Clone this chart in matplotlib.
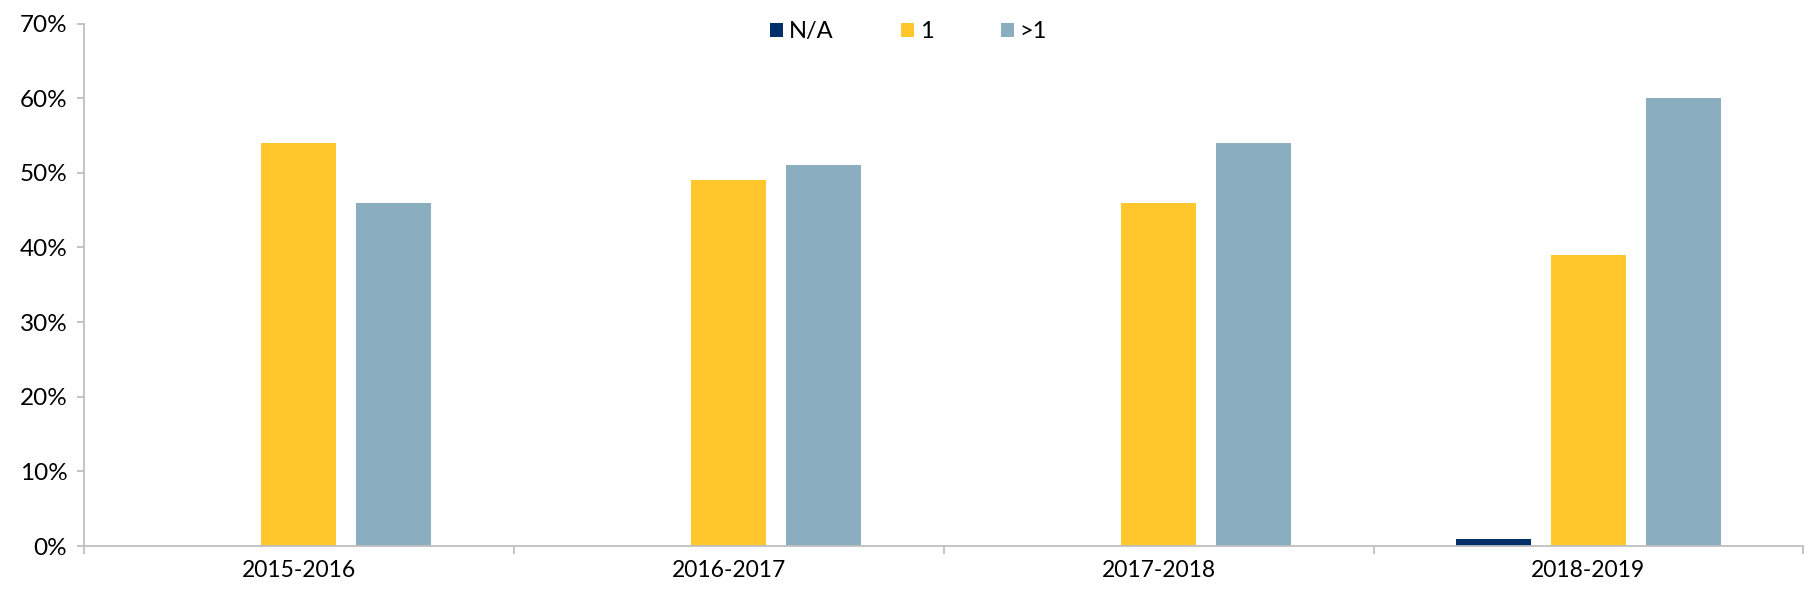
import matplotlib
matplotlib.use("Agg")
import matplotlib.pyplot as plt
import numpy as np
from matplotlib.ticker import FixedLocator, PercentFormatter

categories = ["2015-2016", "2016-2017", "2017-2018", "2018-2019"]
series_names = ["N/A", "1", ">1"]
na_values = [0, 0, 0, 1]
one_values = [54, 49, 46, 39]
more_values = [46, 51, 54, 60]
yticks = [0, 10, 20, 30, 40, 50, 60, 70]

colors = ["#00306B", "#FFC72C", "#8AAEBF"]

plt.rcParams["font.family"] = ["Lato", "DejaVu Sans"]

fig = plt.figure(figsize=(18.2, 5.92), dpi=100)
ax = fig.add_axes([0.04615, 0.0777, 0.9447, 0.8826])

x = np.arange(len(categories))
width = 0.1745
offset = 0.221
for i, (vals, name) in enumerate(zip([na_values, one_values, more_values], series_names)):
    ax.bar(x + (i - 1) * offset, vals, width=width, color=colors[i], label=name, zorder=2)

ax.set_xlim(-0.5, len(categories) - 0.5)
ax.set_ylim(0, 70)
ax.set_yticks(yticks)
ax.yaxis.set_major_formatter(PercentFormatter(decimals=0))
ax.set_xticks(x)
ax.set_xticklabels(categories)
ax.xaxis.set_minor_locator(FixedLocator(np.arange(-0.5, len(categories), 1.0)))

for s in ["top", "right"]:
    ax.spines[s].set_visible(False)
for s in ["left", "bottom"]:
    ax.spines[s].set_color("#BFBFBF")
    ax.spines[s].set_linewidth(1.3)

ax.tick_params(axis="y", length=5, width=1.3, color="#BFBFBF", pad=7, labelsize=17.5, labelcolor="black")
ax.tick_params(axis="x", which="major", length=0, pad=10, labelsize=16.5, labelcolor="black")
ax.tick_params(axis="x", which="minor", length=6, width=1.3, color="#BFBFBF")

leg = ax.legend(loc="center", bbox_to_anchor=(0.4795, 0.984), ncol=3, frameon=False,
                fontsize=17, handlelength=0.55, handleheight=0.55, handletextpad=0.25,
                columnspacing=2.85, borderaxespad=0)

fig.savefig("out.png", dpi=100, facecolor="white")
